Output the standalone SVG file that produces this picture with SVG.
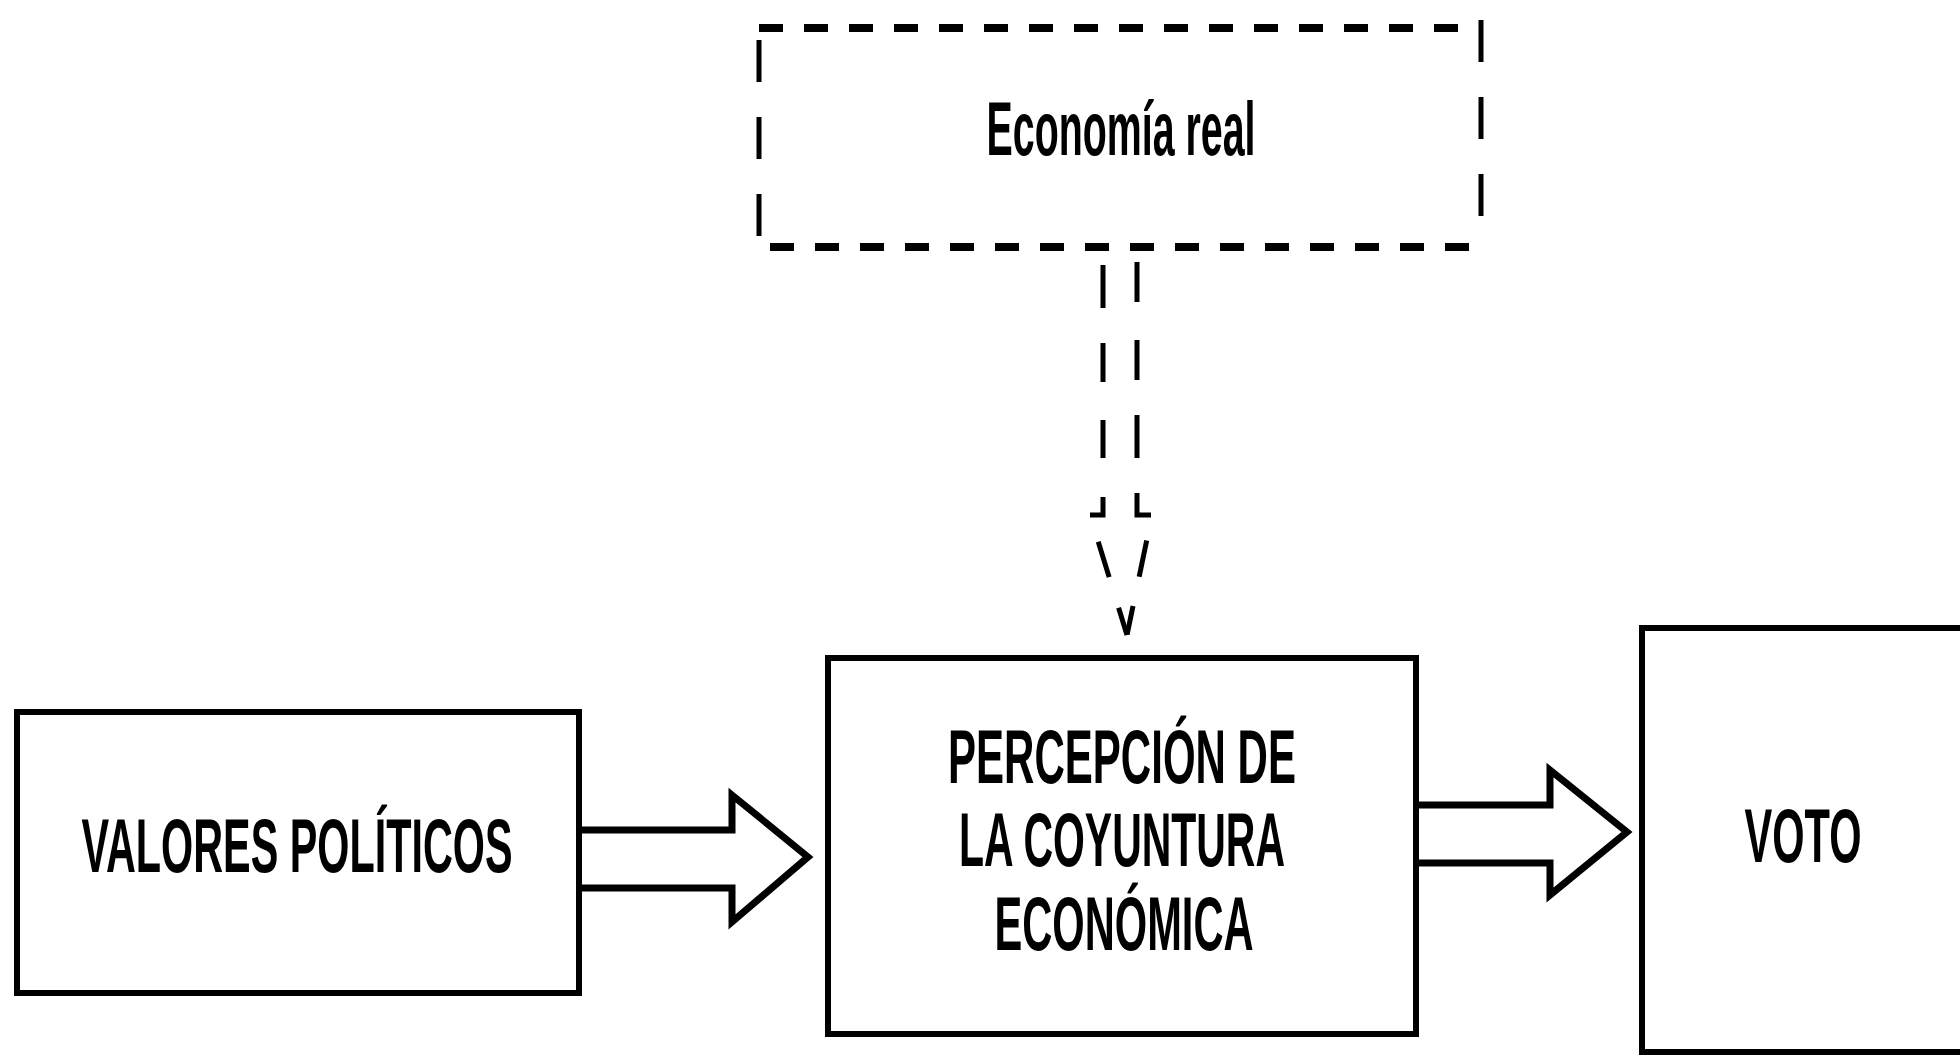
<svg xmlns="http://www.w3.org/2000/svg" width="1960" height="1056" viewBox="0 0 1960 1056">
<style>
.box{fill:#fff;stroke:#000;stroke-width:6}
.lbl{font-family:"Liberation Sans",Arial,sans-serif;font-size:76px;font-weight:bold;fill:#000;text-anchor:middle}
.arr{fill:#fff;stroke:#000;stroke-width:7;stroke-linejoin:miter}
.dash{fill:none;stroke:#000;stroke-width:5;stroke-linecap:butt}
</style>
<rect width="1960" height="1056" fill="#fff"/>
<g id="connectors">
<path class="arr" d="M579,830 H732 V795 L808,857 L732,922 V888 H579"/>
<path class="arr" d="M1417,805 H1550 V770 L1627,832 L1550,895 V863 H1417"/>
<path class="dash" d="M1103,262 V515 H1090 L1127,635" stroke-dasharray="0 3 43 35 39 38 38 39 31 28 37 32 29 100"/>
<path class="dash" d="M1137,262 V515 H1152 L1127,635" stroke-dasharray="40 38 40 35 43 35 36 27 37 30 29 100"/>
</g>
<g id="economia-real">
<line x1="759" y1="28" x2="1481" y2="28" stroke="#000" stroke-width="8" stroke-dasharray="24 21"/>
<line x1="770" y1="247" x2="1481" y2="247" stroke="#000" stroke-width="8" stroke-dasharray="24 21"/>
<line x1="759" y1="40" x2="759" y2="240" stroke="#000" stroke-width="5" stroke-dasharray="42 35"/>
<line x1="1481" y1="20" x2="1481" y2="220" stroke="#000" stroke-width="5" stroke-dasharray="42 35"/>
<text class="lbl" x="1121" y="155" textLength="269" lengthAdjust="spacingAndGlyphs">Economía real</text>
</g>
<g id="valores">
<rect class="box" x="17" y="712" width="562" height="281"/>
<text class="lbl" x="297" y="872" textLength="431" lengthAdjust="spacingAndGlyphs">VALORES POLÍTICOS</text>
</g>
<g id="percepcion">
<rect class="box" x="828" y="658" width="588" height="376"/>
<text class="lbl" x="1122" y="783" textLength="348" lengthAdjust="spacingAndGlyphs">PERCEPCIÓN DE</text>
<text class="lbl" x="1122" y="866" textLength="326" lengthAdjust="spacingAndGlyphs">LA COYUNTURA</text>
<text class="lbl" x="1124" y="950" textLength="259" lengthAdjust="spacingAndGlyphs">ECONÓMICA</text>
</g>
<g id="voto">
<rect class="box" x="1642" y="628" width="400" height="424"/>
<text class="lbl" x="1803" y="862" textLength="117" lengthAdjust="spacingAndGlyphs">VOTO</text>
</g>
</svg>
